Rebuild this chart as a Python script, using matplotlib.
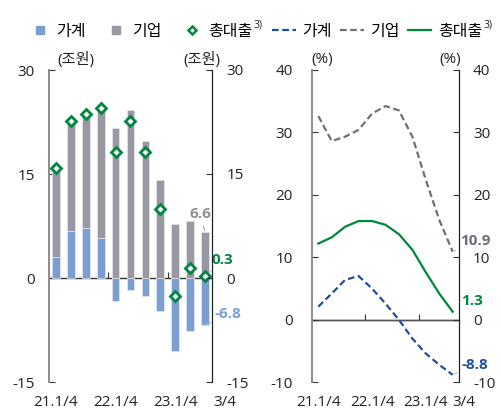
#!/usr/bin/env python3

import matplotlib
matplotlib.use('Agg')
import matplotlib.pyplot as plt
from matplotlib.lines import Line2D
from matplotlib.transforms import ScaledTranslation

plt.rcParams['font.family'] = ['Open Sans', 'Noto Sans CJK KR', 'DejaVu Sans']
plt.rcParams['font.size'] = 11
plt.rcParams['axes.unicode_minus'] = False

# quarters 21.1/4 .. 23.3/4
quarters = ['21.1/4', '', '', '', '22.1/4', '', '', '', '23.1/4', '', '3/4']

# left panel: change in loans (trillion won)
household = [3.0, 6.8, 7.2, 5.8, -3.3, -1.7, -2.6, -4.7, -10.6, -7.6, -6.8]
corporate = [12.7, 15.9, 16.5, 18.8, 21.6, 24.2, 19.8, 14.2, 7.8, 8.2, 6.6]
total = [15.9, 22.7, 23.6, 24.5, 18.2, 22.7, 18.2, 9.9, -2.6, 1.4, 0.3]

# right panel: growth rates (%)
household_rate = [2.1, 4.2, 6.4, 7.0, 5.0, 2.6, 0.0, -3.0, -5.4, -7.2, -8.8]
corporate_rate = [32.6, 28.6, 29.3, 30.4, 33.0, 34.2, 33.5, 29.3, 22.4, 16.0, 10.9]
total_rate = [12.2, 13.2, 14.9, 15.8, 15.8, 15.2, 13.7, 11.2, 7.6, 4.2, 1.3]

BLUE_BAR = '#7b9fd0'
GREY_BAR = '#9a99a3'
GREEN = '#00873f'
DARK_BLUE = '#1f4f9b'
GREY_LINE = '#6f6e79'
LABEL_GREY = '#8f8e98'


def style_axes(ax, ax2, ylim, yticks, pad_left, pad_right, shift_last):
    n = len(quarters)
    ax.set_xlim(-0.47, n - 0.53)
    ax.set_ylim(*ylim)
    ax2.set_ylim(*ylim)
    for a in (ax, ax2):
        a.set_yticks(yticks)
        for s in ('top', 'bottom'):
            a.spines[s].set_visible(False)
    ax.spines['left'].set_color('#8c8c8c')
    ax.spines['left'].set_linewidth(1.4)
    ax.spines['right'].set_visible(False)
    ax2.spines['left'].set_visible(False)
    ax2.spines['right'].set_color('#222222')
    ax2.spines['right'].set_linewidth(0.9)
    ax.tick_params(axis='y', direction='in', length=4, pad=pad_left,
                   colors='#333333', labelcolor='#222222', width=0.8)
    ax2.tick_params(axis='y', direction='in', length=4, pad=pad_right,
                    colors='#333333', labelcolor='#222222', width=0.8)
    ax.set_xticks(range(n))
    ax.set_xticklabels(quarters)
    ax.tick_params(axis='x', length=0, pad=9, labelcolor='#222222')
    lab = ax.get_xticklabels()[-1]
    lab.set_transform(lab.get_transform() + ScaledTranslation(shift_last / 100, 0, fig.dpi_scale_trans))
    ax.axhline(0, color='#333333', lw=1.0, zorder=1)
    loc = (0 - ylim[0]) / (ylim[1] - ylim[0])
    sec = ax.secondary_xaxis(loc)
    sec.set_xticks([3.5, 7.5])
    sec.tick_params(direction='in', length=4, labelbottom=False, color='#333333', width=0.8)
    sec.spines['bottom'].set_visible(False)


fig = plt.figure(figsize=(5.01, 4.15), dpi=100)

# ---- left panel
axL = fig.add_axes([49 / 501, 1 - 382 / 415, 163 / 501, 312 / 415])
axL2 = axL.twinx()
x = range(len(quarters))
bottoms = [h if h > 0 else 0 for h in household]
axL.bar(x, household, width=0.52, color=BLUE_BAR, edgecolor='#e6e8f0', linewidth=0.5, zorder=2)
axL.bar(x, corporate, bottom=bottoms, width=0.52, color=GREY_BAR, edgecolor='#e6e6ea',
        linewidth=0.5, zorder=2)
axL.plot(x, total, ls='none', marker='D', ms=5, mfc='white', mec=GREEN, mew=2.0, zorder=4)
style_axes(axL, axL2, (-15, 30), [-15, 0, 15, 30], 10, 10.5, 20)

axL.annotate('6.6', xy=(10, corporate[-1]), xytext=(-3.6, 13.3), textcoords='offset points',
             ha='center', va='center', color=LABEL_GREY, fontweight='bold', fontsize=11,
             arrowprops=dict(arrowstyle='-', color=LABEL_GREY, lw=0.6, shrinkA=2, shrinkB=1))
axL.annotate('0.3', xy=(10, total[-1]), xytext=(5, 11.5), textcoords='offset points',
             ha='left', va='center', color=GREEN, fontweight='bold', fontsize=11,
             arrowprops=dict(arrowstyle='-', color='#bbbbbb', lw=0.6, shrinkA=1, shrinkB=3))
axL.annotate('-6.8', xy=(10, household[-1]), xytext=(7.2, 7.9), textcoords='offset points',
             ha='left', va='center', color=BLUE_BAR, fontweight='bold', fontsize=11,
             arrowprops=dict(arrowstyle='-', color='#bbbbbb', lw=0.6, shrinkA=1, shrinkB=8))

# ---- right panel
axR = fig.add_axes([312 / 501, 1 - 382.3 / 415, 147 / 501, 312.5 / 415])
axR2 = axR.twinx()
axR.plot(x, household_rate, color=DARK_BLUE, lw=1.6, dashes=(3, 1.6), zorder=3)
axR.plot(x, corporate_rate, color=GREY_LINE, lw=1.6, dashes=(3, 1.6), zorder=3)
axR.plot(x, total_rate, color=GREEN, lw=1.6, zorder=3)
style_axes(axR, axR2, (-10, 40), [-10, 0, 10, 20, 30, 40], 14, 10, 11)
axR.axhline(0, color='#555555', lw=1.0, zorder=1)

axR.annotate('10.9', xy=(10, corporate_rate[-1]), xytext=(5, 7.7), textcoords='offset points',
             ha='left', va='center', color=GREY_LINE, fontweight='bold', fontsize=11,
             arrowprops=dict(arrowstyle='-', color='#aaaaaa', lw=0.6, shrinkA=1, shrinkB=1))
axR.annotate('1.3', xy=(10, total_rate[-1]), xytext=(6.3, 7.7), textcoords='offset points',
             ha='left', va='center', color=GREEN, fontweight='bold', fontsize=11)
axR.annotate('-8.8', xy=(10, household_rate[-1]), xytext=(6.3, 7), textcoords='offset points',
             ha='left', va='center', color=DARK_BLUE, fontweight='bold', fontsize=11,
             arrowprops=dict(arrowstyle='-', color='#aaaaaa', lw=0.6, shrinkA=1, shrinkB=1))

# units
for px, txt in [(76, '(조원)'), (202, '(조원)'), (322, '(%)'), (450, '(%)')]:
    fig.text(px / 501, 1 - 60 / 415, txt, ha='center', va='center', color='#222222', fontsize=11)

# legends
hL = [Line2D([], [], ls='none', marker='s', ms=6, color=BLUE_BAR),
      Line2D([], [], ls='none', marker='s', ms=6, color=GREY_BAR),
      Line2D([], [], ls='none', marker='D', ms=4.5, mfc='white', mec=GREEN, mew=1.8)]
legL = fig.legend(hL, ['가계', '기업', '총대출'], loc='center',
                  bbox_to_anchor=(143 / 501, 1 - 32 / 415),
                  ncol=3, frameon=False, handlelength=0.8, handletextpad=0.6,
                  columnspacing=1.5, prop={'size': 11.5})
hR = [Line2D([], [], color=DARK_BLUE, lw=1.6, dashes=(3, 1.6)),
      Line2D([], [], color=GREY_LINE, lw=1.6, dashes=(3, 1.6)),
      Line2D([], [], color=GREEN, lw=1.6)]
legR = fig.legend(hR, ['가계', '기업', '총대출'], loc='center',
                  bbox_to_anchor=(377 / 501, 1 - 32 / 415),
                  ncol=3, frameon=False, handlelength=1.5, handletextpad=0.4,
                  columnspacing=0.5, prop={'size': 11.5})

# superscript footnote marks on the legend labels
fig.canvas.draw()
for leg in (legL, legR):
    bb = leg.get_texts()[2].get_window_extent()
    fig.text((bb.x1 + 1) / 501, (bb.y1 + 4) / 415, '3)', ha='left', va='top',
             fontsize=7.5, color='#222222')

fig.savefig('out.png', dpi=100)
